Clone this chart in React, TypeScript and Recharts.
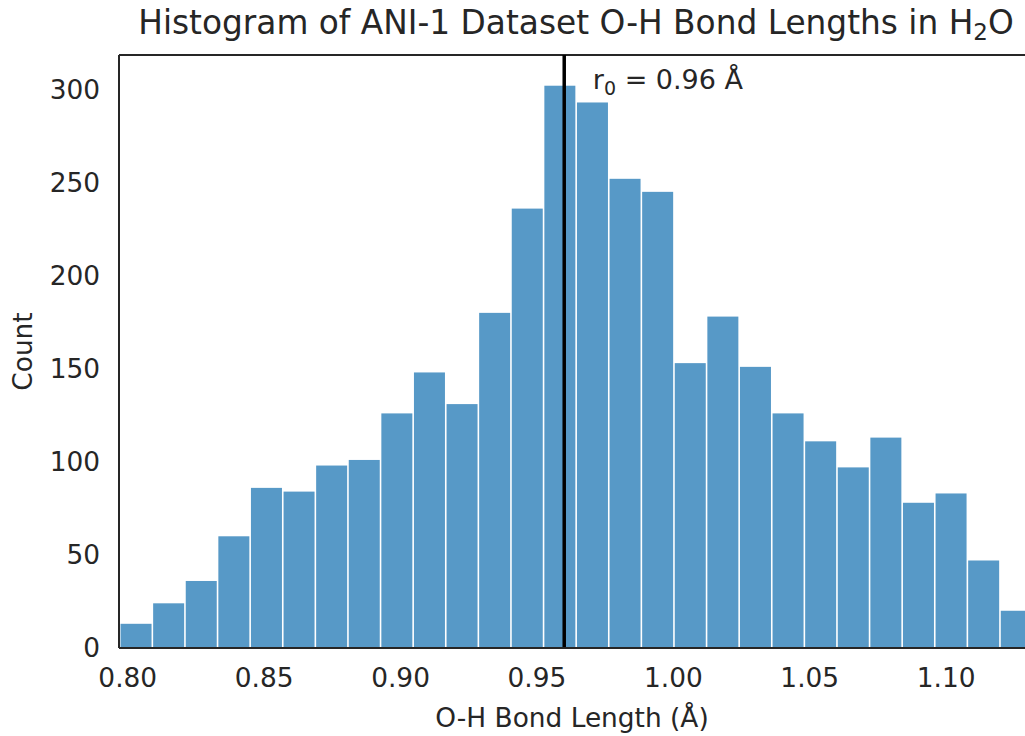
import React from "react";
import {
  ComposedChart,
  Bar,
  XAxis,
  YAxis,
  ReferenceLine,
  ReferenceDot,
} from "recharts";

// histogram bins (bin centre, Å) and counts
const binCenters = [
  0.802975, 0.814925, 0.826875, 0.838825, 0.850775, 0.862725, 0.874675,
  0.886625, 0.898575, 0.910525, 0.922475, 0.934425, 0.946375, 0.958325,
  0.970275, 0.982225, 0.994175, 1.006125, 1.018075, 1.030025, 1.041975,
  1.053925, 1.065875, 1.077825, 1.089775, 1.101725, 1.113675, 1.125625,
];
const counts = [
  13, 24, 36, 60, 86, 84, 98, 101, 126, 148, 131, 180, 236, 302, 293, 252, 245,
  153, 178, 151, 126, 111, 97, 113, 78, 83, 47, 20,
];

const xTicks = [0.8, 0.85, 0.9, 0.95, 1.0, 1.05, 1.1];
const yTicks = [0, 50, 100, 150, 200, 250, 300];
const xDomain = [0.7968, 1.1289];
const yDomain = [0, 318.5];

const r0 = 0.96;
const r0LabelAt = { x: 0.9705, y: 300.5 };

const data = binCenters.map((x, i) => ({ x, count: counts[i] }));

const FONT = "'DejaVu Sans', sans-serif";
const INK = "#262626";
const BAR = "#5799C7";

const HistBar = (props: any) => {
  const { x, y, width, height } = props;
  if (!height || height <= 0) return null;
  return <rect x={x + 1} y={y} width={Math.max(width - 2, 0)} height={height} fill={BAR} />;
};

const R0Label = (props: any) => {
  const { viewBox } = props;
  return (
    <text x={viewBox.x} y={viewBox.y} fill={INK} fontSize={27} fontFamily={FONT}>
      r
      <tspan fontSize={19} dy={6}>
        0
      </tspan>
      <tspan dy={-6}> = 0.96 Å</tspan>
    </text>
  );
};

export default function App() {
  return (
    <div style={{ position: "absolute", left: 0, top: 0, width: 1025, height: 736 }}>
      <div
        style={{
          position: "absolute",
          left: 123,
          width: 906,
          top: 4,
          textAlign: "center",
          fontFamily: FONT,
          fontSize: 32.8,
          color: INK,
          whiteSpace: "nowrap",
        }}
      >
        Histogram of ANI-1 Dataset O-H Bond Lengths in H
        <sub style={{ fontSize: 23, verticalAlign: "-0.25em" }}>2</sub>O
      </div>
      <ComposedChart
        width={1025}
        height={736}
        data={data}
        margin={{ top: 55, right: 0, bottom: 0, left: 0 }}
        barCategoryGap={0}
        barGap={0}
      >
        <XAxis
          dataKey="x"
          type="number"
          domain={xDomain}
          allowDataOverflow
          ticks={xTicks}
          tickFormatter={(v: number) => v.toFixed(2)}
          tickLine={false}
          tickSize={0}
          tickMargin={20}
          height={88}
          axisLine={{ stroke: INK, strokeWidth: 2 }}
          tick={{ fill: INK, fontSize: 26.4, fontFamily: FONT }}
          label={{
            value: "O-H Bond Length (Å)",
            position: "insideBottom",
            offset: 9,
            fill: INK,
            fontSize: 26.4,
            fontFamily: FONT,
          }}
        />
        <YAxis
          type="number"
          domain={yDomain}
          allowDataOverflow
          ticks={yTicks}
          width={119}
          tickLine={false}
          tickSize={0}
          tickMargin={19}
          axisLine={{ stroke: INK, strokeWidth: 2 }}
          tick={{ fill: INK, fontSize: 26.4, fontFamily: FONT }}
          label={{
            value: "Count",
            angle: -90,
            position: "insideLeft",
            offset: 22.5,
            fill: INK,
            fontSize: 26.4,
            fontFamily: FONT,
            style: { textAnchor: "middle" },
          }}
        />
        <Bar dataKey="count" shape={HistBar} isAnimationActive={false} />
        {/* top spine */}
        <ReferenceLine y={yDomain[1]} stroke={INK} strokeWidth={2} ifOverflow="visible" />
        <ReferenceLine x={r0} stroke="#000000" strokeWidth={3.5} />
        <ReferenceDot
          x={r0LabelAt.x}
          y={r0LabelAt.y}
          r={0}
          stroke="none"
          fill="none"
          label={<R0Label />}
        />
      </ComposedChart>
    </div>
  );
}
